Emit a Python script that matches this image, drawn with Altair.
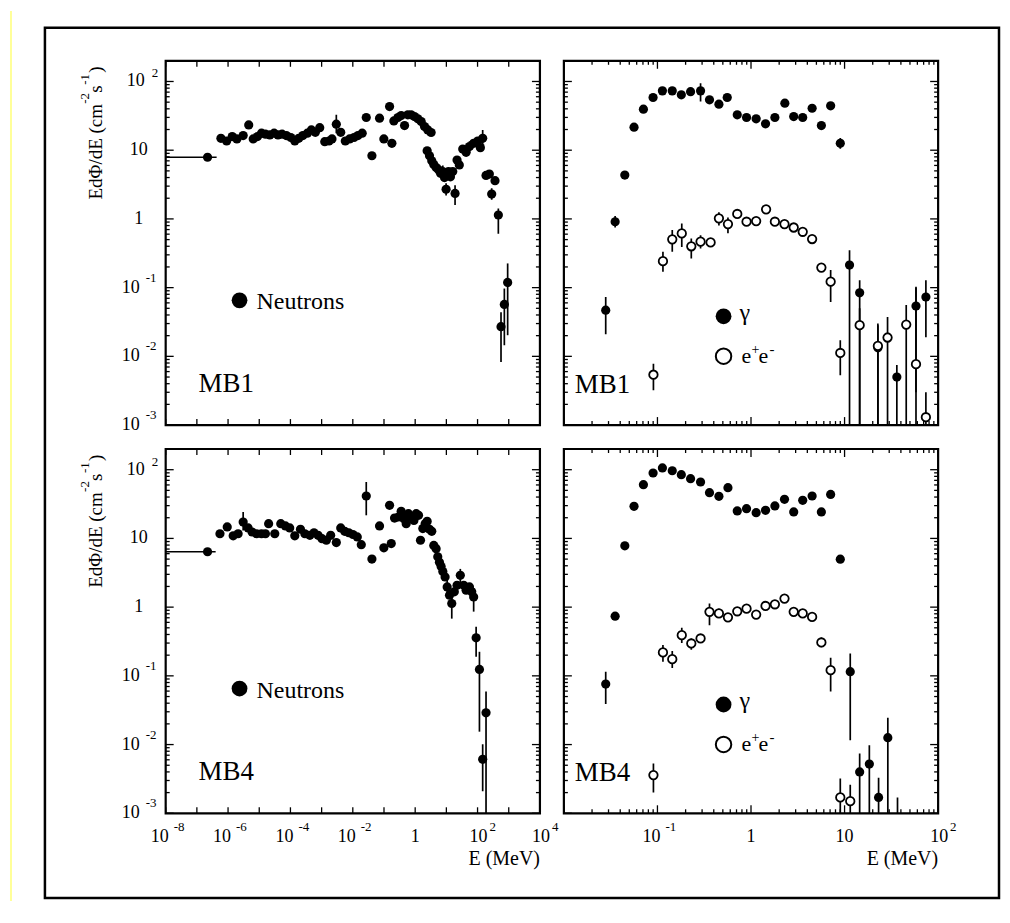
import altair as alt
import pandas as pd

FONT = "Liberation Serif, Times New Roman, serif"

# ---------------- MB1 neutrons ----------------
n1_E = [2.2e-7, 5.9e-7, 9.0e-7, 1.36e-6, 1.92e-6, 3.05e-6, 4.6e-6, 6.4e-6, 8.8e-6, 1.18e-5,
        1.58e-5, 2.18e-5, 3.0e-5, 4.0e-5, 5.4e-5, 7.4e-5, 1.03e-4, 1.38e-4, 1.85e-4, 2.5e-4,
        3.5e-4, 4.7e-4, 6.3e-4, 8.7e-4, 1.26e-3, 1.73e-3, 2.15e-3, 2.96e-3, 4.1e-3, 5.75e-3,
        7.9e-3, 1.09e-2, 1.46e-2, 2.0e-2,
        2.7e-2, 4.1e-2, 7.2e-2, 9.9e-2, 0.151, 0.179, 0.207, 0.28, 0.356, 0.456,
        0.58, 0.74, 0.95, 1.22, 1.56, 1.99, 2.54, 3.25, 2.42, 2.88,
        3.4, 3.95, 4.7, 5.6, 6.5, 7.7, 8.7, 9.8, 11.7, 13.5,
        16, 19, 22, 26, 33.5, 43, 55, 75, 101, 123,
        146, 187, 239, 284, 363, 464, 565, 723, 923]
n1_F = [7.9, 14.9, 13.6, 15.8, 14.6, 16.3, 23.3, 14.6, 15.8, 17.7,
        17.1, 16.7, 17.7, 16.7, 17.1, 16.3, 15.3, 13.6, 14.9, 16.3,
        17.7, 19.7, 18.2, 21.3, 13.3, 13.6, 14.6, 23.9, 18.2, 13.6,
        14.6, 15.3, 16.3, 17.7,
        29.9, 8.3, 29.2, 14.6, 43.2, 12.6, 26.7, 29.9, 31.9, 22.8,
        32.7, 32.7, 30.9, 28.6, 26.1, 22.1, 19.7, 18.1, 9.8, 8.3,
        7.0, 6.2, 5.6, 5.2, 4.6, 4.9, 4.0, 2.7, 4.9, 4.1,
        4.9, 2.35, 7.2, 6.1, 10.4, 9.3, 11.3, 12.6, 13.6, 10.9,
        14.9, 4.3, 4.5, 2.3, 3.6, 1.14, 0.027, 0.057, 0.119]
n1_err_E = [2.96e-3, 2.54, 7.7, 9.8, 19, 55, 146, 284, 464, 565, 723, 923]
n1_err_lo = [17.7, 16.5, 4.0, 2.2, 1.6, 9.5, 11.3, 1.9, 0.61, 0.0083, 0.0145, 0.0203]
n1_err_hi = [32.7, 23.5, 6.0, 3.3, 3.1, 13.5, 19.7, 2.8, 1.42, 0.044, 0.097, 0.225]
n1_bin = [1e-8, 4.3e-7]

# ---------------- MB4 neutrons ----------------
n4_E = [2.2e-7, 5.5e-7, 9.4e-7, 1.46e-6, 2.1e-6, 3.05e-6, 4.4e-6, 5.9e-6, 8.2e-6, 1.18e-5,
        1.58e-5, 2.0e-5, 3.15e-5, 4.9e-5, 6.9e-5, 9.5e-5, 1.38e-4, 2.1e-4, 2.9e-4, 4.2e-4,
        5.7e-4, 7.7e-4, 1.03e-3, 1.42e-3, 1.95e-3, 2.96e-3, 4.1e-3, 5.5e-3, 7.4e-3, 1.01e-2,
        1.39e-2, 1.87e-2, 2.7e-2, 4.1e-2, 7.2e-2, 9.9e-2, 0.151, 0.171, 0.218, 0.29,
        0.356, 0.434, 0.515, 0.61, 0.74, 0.91, 1.08, 1.28, 1.48, 1.76,
        2.09, 2.42, 2.88, 3.4, 3.95, 4.7, 5.3, 6.0, 6.8, 7.7,
        9.1, 10.6, 12.6, 14.9, 18, 22, 28, 36, 43, 55,
        65, 75, 90, 115, 146, 187]
n4_F = [6.4, 11.7, 14.7, 10.9, 11.7, 17.3, 14.2, 12.4, 11.7, 11.7,
        11.7, 16.4, 11.7, 16.4, 15.2, 14.2, 10.9, 13.6, 11.7, 11.1,
        12.1, 11.1, 9.9, 9.4, 11.1, 8.7, 14.2, 12.7, 12.1, 11.4,
        10.5, 8.1, 41.4, 5.0, 15.2, 7.3, 30.3, 8.4, 19.8, 20.5,
        24.8, 19.4, 16.4, 22.9, 20.5, 18.3, 22.9, 21.7, 9.4, 13.9,
        16.4, 17.7, 13.6, 12.7, 7.9, 7.1, 5.4, 4.5, 3.9, 3.3,
        2.75, 1.97, 1.49, 1.13, 1.67, 2.08, 2.9, 2.08, 1.76, 1.97,
        1.67, 1.41, 0.358, 0.124, 0.0061, 0.029]
n4_err_E = [3.05e-6, 2.7e-2, 7.7, 10.6, 14.9, 28, 75, 90, 115, 146, 187]
n4_err_lo = [13.0, 21.7, 2.5, 1.5, 0.68, 2.2, 0.86, 0.19, 0.0154, 0.0021, 0.001]
n4_err_hi = [24.3, 66.0, 4.2, 2.5, 1.49, 3.6, 1.9, 0.52, 0.224, 0.0101, 0.059]
n4_bin = [1e-8, 4.0e-7]

# ---------------- MB1 gamma / e+e- ----------------
g1_E = [0.028, 0.0353, 0.0448, 0.0562, 0.0708, 0.0898, 0.113, 0.144, 0.18, 0.226,
        0.289, 0.36, 0.454, 0.557, 0.713, 0.896, 1.135, 1.43, 1.8, 2.3,
        2.86, 3.57, 4.5, 5.65, 7.1, 9.0, 11.3, 14.5, 22.7, 36.2, 58, 74]
g1_F = [0.047, 0.91, 4.35, 21.6, 39.5, 58.5, 73, 73, 64, 71,
        73, 54, 46.7, 58.5, 32.7, 29.9, 28.6, 24.2, 29.9, 48.3,
        30.9, 29.9, 40.8, 22.8, 44.2, 12.6, 0.213, 0.084, 0.0133, 0.005, 0.054, 0.073]
g1_err_E = [0.028, 0.0353, 0.0448, 0.289, 9.0, 11.3, 14.5, 22.7, 36.2, 58, 74]
g1_err_lo = [0.021, 0.75, 3.8, 51, 10.5, 0.001, 0.001, 0.001, 0.001, 0.003, 0.019]
g1_err_hi = [0.073, 1.1, 5.0, 94.6, 15.0, 0.35, 0.128, 0.0284, 0.0075, 0.103, 0.128]

e1_E = [0.0906, 0.1145, 0.144, 0.182, 0.23, 0.289, 0.37, 0.454, 0.567, 0.713,
        0.896, 1.135, 1.45, 1.8, 2.28, 2.86, 3.57, 4.5, 5.65, 7.1,
        9.0, 14.5, 22.7, 28.8, 45.6, 58, 74]
e1_F = [0.0054, 0.243, 0.504, 0.615, 0.40, 0.466, 0.455, 1.02, 0.84, 1.18,
        0.91, 0.93, 1.38, 0.91, 0.84, 0.75, 0.65, 0.51, 0.196, 0.122,
        0.0112, 0.0284, 0.0142, 0.0188, 0.029, 0.0077, 0.0013]
e1_err_E = [0.0906, 0.1145, 0.144, 0.182, 0.23, 0.289, 0.454, 0.567, 7.1, 9.0,
            14.5, 22.7, 28.8, 45.6, 58, 74]
e1_err_lo = [0.0032, 0.17, 0.333, 0.39, 0.265, 0.37, 0.8, 0.62, 0.062, 0.0053,
             0.001, 0.001, 0.001, 0.001, 0.001, 0.001]
e1_err_hi = [0.0078, 0.333, 0.69, 0.86, 0.52, 0.58, 1.25, 1.05, 0.18, 0.0171,
             0.05, 0.03, 0.0375, 0.056, 0.1, 0.003]

# ---------------- MB4 gamma / e+e- ----------------
g4_E = [0.028, 0.0353, 0.0448, 0.0562, 0.0708, 0.0898, 0.113, 0.144, 0.18, 0.226,
        0.289, 0.36, 0.454, 0.567, 0.713, 0.896, 1.135, 1.43, 1.8, 2.28,
        2.86, 3.57, 4.5, 5.65, 7.1, 9.0, 11.5, 14.5, 18.4, 23.1, 29]
g4_F = [0.076, 0.738, 7.8, 29.3, 60.5, 89.5, 106, 96.6, 84.6, 74,
        66.2, 46.3, 41, 54.8, 25.1, 27.1, 23.7, 25.6, 29.7, 37,
        24.3, 35.8, 41.4, 24.3, 43.7, 4.98, 0.115, 0.004, 0.0052, 0.0017, 0.0126]
g4_err_E = [0.028, 11.5, 14.5, 18.4, 23.1, 29, 36.8]
g4_err_lo = [0.0388, 0.0116, 0.001, 0.001, 0.001, 0.001, 0.001]
g4_err_hi = [0.115, 0.212, 0.0074, 0.0098, 0.0033, 0.0246, 0.0017]

e4_E = [0.0906, 0.1145, 0.144, 0.182, 0.23, 0.289, 0.36, 0.454, 0.567, 0.713,
        0.896, 1.135, 1.43, 1.8, 2.28, 2.86, 3.57, 4.5, 5.65, 7.1, 9.0, 11.5]
e4_F = [0.0036, 0.219, 0.175, 0.391, 0.296, 0.35, 0.855, 0.81, 0.71, 0.87,
        0.95, 0.78, 1.04, 1.1, 1.33, 0.855, 0.81, 0.72, 0.306, 0.121, 0.0017, 0.0015]
e4_err_E = [0.0906, 0.1145, 0.144, 0.182, 0.23, 0.36, 0.454, 5.65, 7.1, 9.0, 11.5]
e4_err_lo = [0.002, 0.16, 0.13, 0.3, 0.24, 0.546, 0.7, 0.26, 0.059, 0.001, 0.001]
e4_err_hi = [0.0053, 0.28, 0.23, 0.5, 0.35, 1.13, 0.95, 0.36, 0.183, 0.0032, 0.0026]

# ---------------- ticks and labels ----------------
Y_DOMAIN = [1e-3, 200]
Y_MAJOR = [1e-3, 1e-2, 1e-1, 1, 10, 100]
Y_LABEL_BASE = ["10", "10", "10", "1", "10", "10"]
Y_LABEL_EXP = ["-3", "-2", "-1", "", "", "2"]

NX_DOMAIN = [1e-8, 1e4]
NX_MAJOR = [1e-8, 1e-7, 1e-6, 1e-5, 1e-4, 1e-3, 1e-2, 1e-1, 1, 10, 100, 1e3, 1e4]
NX_LABEL_VALS = [1e-8, 1e-6, 1e-4, 1e-2, 1, 1e2, 1e4]
NX_LABEL_BASE = ["10", "10", "10", "10", "1", "10", "10"]
NX_LABEL_EXP = ["-8", "-6", "-4", "-2", "", "2", "4"]

GX_DOMAIN = [1e-2, 1e2]
GX_MAJOR = [0.01, 0.1, 1, 10, 100]
GX_LABEL_VALS = [0.1, 1, 10, 100]
GX_LABEL_BASE = ["10", "1", "10", "10"]
GX_LABEL_EXP = ["-1", "", "", "2"]


def minors(decades):
    return [k * d for d in decades[:-1] for k in range(2, 10)]


Y_MINOR = minors(Y_MAJOR)
GX_MINOR = minors(GX_MAJOR)

W, H = 375, 365
YS = alt.Scale(type="log", domain=Y_DOMAIN, nice=False)


def xscale(dom):
    return alt.Scale(type="log", domain=dom, nice=False)


def one():
    return pd.DataFrame({"k": [0]})


def txt(s, x, y, size, align="left", baseline="alphabetic", angle=0):
    kw = dict(font=FONT, fontSize=size, align=align, baseline=baseline, color="black")
    if angle:
        kw["angle"] = angle
    return alt.Chart(pd.DataFrame({"s": [s]})).mark_text(**kw).encode(
        text="s:N", x=alt.value(x), y=alt.value(y))


def frame_ticks(xsc, x_major, x_minor, xlen):
    out = []
    rk = dict(color="black", strokeWidth=1.3)
    for vals, ln in ((x_major, xlen), (x_minor, 4)):
        if len(vals) == 0:
            continue
        c = alt.Chart(pd.DataFrame({"t": vals})).mark_rule(**rk)
        X = alt.X("t:Q", scale=xsc, axis=None)
        out.append(c.encode(x=X, y=alt.value(H), y2=alt.value(H - ln)))
        out.append(c.encode(x=X, y=alt.value(0), y2=alt.value(ln)))
    for vals, ln in ((Y_MAJOR, 8), (Y_MINOR, 4)):
        c = alt.Chart(pd.DataFrame({"t": vals})).mark_rule(**rk)
        Y = alt.Y("t:Q", scale=YS, axis=None)
        out.append(c.encode(y=Y, x=alt.value(0), x2=alt.value(ln)))
        out.append(c.encode(y=Y, x=alt.value(W), x2=alt.value(W - ln)))
    return out


def filled_pts(E, F, xsc, size=85):
    d = pd.DataFrame({"E": E, "F": F})
    return alt.Chart(d).mark_circle(color="black", opacity=1, size=size, clip=True).encode(
        x=alt.X("E:Q", scale=xsc, axis=None), y=alt.Y("F:Q", scale=YS, axis=None))


def open_pts(E, F, xsc):
    d = pd.DataFrame({"E": E, "F": F})
    return alt.Chart(d).mark_circle(fill="white", stroke="black", strokeWidth=1.8,
                                    opacity=1, size=72, clip=True).encode(
        x=alt.X("E:Q", scale=xsc, axis=None), y=alt.Y("F:Q", scale=YS, axis=None))


def err_bars(E, lo, hi, xsc):
    d = pd.DataFrame({"E": E, "lo": lo, "hi": hi})
    return alt.Chart(d).mark_rule(color="black", strokeWidth=1.7, clip=True).encode(
        x=alt.X("E:Q", scale=xsc, axis=None),
        y=alt.Y("lo:Q", scale=YS, axis=None), y2="hi:Q")


def hbin(lo_hi, F, xsc):
    d = pd.DataFrame({"a": [lo_hi[0]], "b": [lo_hi[1]], "F": [F]})
    return alt.Chart(d).mark_rule(color="black", strokeWidth=1.7, clip=True).encode(
        x=alt.X("a:Q", scale=xsc, axis=None), x2="b:Q",
        y=alt.Y("F:Q", scale=YS, axis=None))


def y_labels():
    d = pd.DataFrame({"v": Y_MAJOR, "b": Y_LABEL_BASE, "e": Y_LABEL_EXP})
    neg = d[d.e.str.startswith("-")]
    pos = d[(d.e != "") & ~d.e.str.startswith("-")]
    plain = d[d.e == ""]
    Y = alt.Y("v:Q", scale=YS, axis=None)
    k = dict(font=FONT, color="black", baseline="middle")
    return [
        alt.Chart(neg).mark_text(align="right", fontSize=18, **k).encode(y=Y, x=alt.value(-26), text="b:N"),
        alt.Chart(neg).mark_text(align="left", fontSize=13, dy=-10, **k).encode(y=Y, x=alt.value(-20), text="e:N"),
        alt.Chart(pos).mark_text(align="right", fontSize=18, **k).encode(y=Y, x=alt.value(-21), text="b:N"),
        alt.Chart(pos).mark_text(align="left", fontSize=13, dy=-8, **k).encode(y=Y, x=alt.value(-14), text="e:N"),
        alt.Chart(plain).mark_text(align="center", fontSize=18, **k).encode(y=Y, x=alt.value(-27), text="b:N"),
    ]


def x_labels(vals, base, exps, xsc):
    d = pd.DataFrame({"v": vals, "b": base, "e": exps})
    neg = d[d.e.str.startswith("-")]
    pos = d[(d.e != "") & ~d.e.str.startswith("-")]
    plain = d[d.e == ""]
    X = alt.X("v:Q", scale=xsc, axis=None)
    k = dict(font=FONT, color="black", baseline="middle")
    return [
        alt.Chart(neg).mark_text(align="center", fontSize=18, dx=-6, **k).encode(x=X, y=alt.value(H + 24), text="b:N"),
        alt.Chart(neg).mark_text(align="left", fontSize=13, dx=8, **k).encode(x=X, y=alt.value(H + 14), text="e:N"),
        alt.Chart(pos).mark_text(align="center", fontSize=18, dx=1, **k).encode(x=X, y=alt.value(H + 24), text="b:N"),
        alt.Chart(pos).mark_text(align="left", fontSize=13, dx=12, **k).encode(x=X, y=alt.value(H + 14), text="e:N"),
        alt.Chart(plain).mark_text(align="center", fontSize=18, **k).encode(x=X, y=alt.value(H + 24), text="b:N"),
        txt("E (MeV)", W, H + 52, 20, align="right"),
    ]


def y_title():
    return [
        txt("EdΦ/dE (cm", -64, 139, 19, angle=270),
        txt("-2", -77, 43, 13, angle=270),
        txt("s", -64, 32, 19, angle=270),
        txt("-1", -77, 24, 13, angle=270),
        txt(")", -64, 12, 19, angle=270),
    ]


def neutron_panel(E, F, eE, elo, ehi, bin_, tag, bottom, extra=()):
    xsc = xscale(NX_DOMAIN)
    layers = list(extra)
    layers += frame_ticks(xsc, NX_MAJOR, [], 6)
    layers += [hbin(bin_, F[0], xsc), err_bars(eE, elo, ehi, xsc), filled_pts(E, F, xsc)]
    layers += y_labels() + y_title()
    layers += [
        alt.Chart(one()).mark_circle(color="black", opacity=1, size=250).encode(
            x=alt.value(74), y=alt.value(240)),
        txt("Neutrons", 91, 249, 24),
        txt(tag, 33, 332, 27),
    ]
    if bottom:
        layers += x_labels(NX_LABEL_VALS, NX_LABEL_BASE, NX_LABEL_EXP, xsc)
    return alt.layer(*layers).properties(width=W, height=H)


def gamma_panel(gE, gF, geE, gelo, gehi, eE, eF, eeE, eelo, eehi, tag, bottom):
    xsc = xscale(GX_DOMAIN)
    layers = frame_ticks(xsc, GX_MAJOR, GX_MINOR, 8)
    layers += [err_bars(geE, gelo, gehi, xsc), err_bars(eeE, eelo, eehi, xsc),
               filled_pts(gE, gF, xsc), open_pts(eE, eF, xsc)]
    layers += [
        alt.Chart(one()).mark_circle(color="black", opacity=1, size=250).encode(
            x=alt.value(160), y=alt.value(256)),
        alt.Chart(one()).mark_circle(fill="white", stroke="black", strokeWidth=2,
                                     opacity=1, size=240).encode(
            x=alt.value(160), y=alt.value(296)),
        txt("γ", 176, 260, 24),
        txt("e", 178, 303, 22),
        txt("+", 188, 294, 14),
        txt("e", 195, 303, 22),
        txt("-", 206, 294, 15),
        txt(tag, 11, 333, 27),
    ]
    if bottom:
        layers += x_labels(GX_LABEL_VALS, GX_LABEL_BASE, GX_LABEL_EXP, xsc)
    return alt.layer(*layers).properties(width=W, height=H)


# page decoration (yellow edge + outer black frame), drawn from the first panel
decor = [
    alt.Chart(one()).mark_rect(color="#FFFF99").encode(
        x=alt.value(-156), x2=alt.value(-154), y=alt.value(-50), y2=alt.value(842)),
    alt.Chart(one()).mark_rect(fill="white", fillOpacity=0, stroke="black", strokeWidth=2.5).encode(
        x=alt.value(-121), x2=alt.value(835), y=alt.value(-33), y2=alt.value(839)),
]

p11 = neutron_panel(n1_E, n1_F, n1_err_E, n1_err_lo, n1_err_hi, n1_bin, "MB1", False, decor)
p12 = gamma_panel(g1_E, g1_F, g1_err_E, g1_err_lo, g1_err_hi,
                  e1_E, e1_F, e1_err_E, e1_err_lo, e1_err_hi, "MB1", False)
p21 = neutron_panel(n4_E, n4_F, n4_err_E, n4_err_lo, n4_err_hi, n4_bin, "MB4", True)
p22 = gamma_panel(g4_E, g4_F, g4_err_E, g4_err_lo, g4_err_hi,
                  e4_E, e4_F, e4_err_E, e4_err_lo, e4_err_hi, "MB4", True)

chart = alt.concat(p11, p12, p21, p22, columns=2, spacing=24, bounds="flush").properties(
    padding=0, background="white"
).configure_view(stroke="black", strokeWidth=2.2)

chart.save("out.html", embed_options={"renderer": "svg", "actions": False})
